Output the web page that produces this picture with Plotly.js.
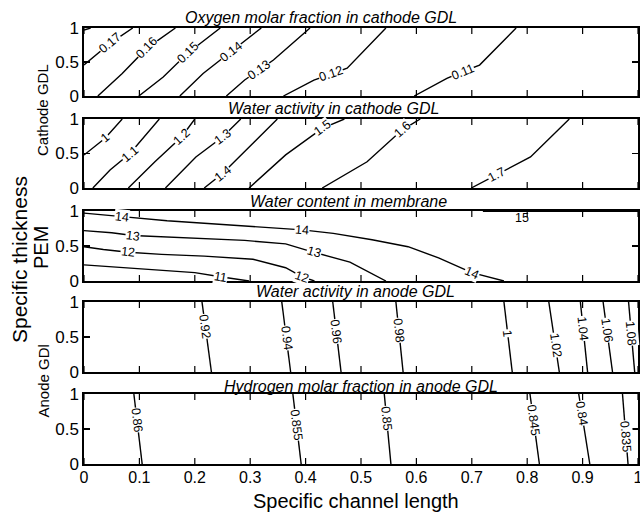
<!DOCTYPE html>
<html>
<head>
<meta charset="utf-8">
<script src="https://cdn.plot.ly/plotly-3.0.1.min.js"></script>
<style>
  html, body { margin: 0; padding: 0; background: #fff; }
  #plot { width: 640px; height: 519px; }
</style>
</head>
<body>
<div id="plot"></div>
<script>
// ---------- data ----------
// x: specific channel length, y: specific thickness of each layer (0..1)

const xTickVals = [0, 0.1, 0.2, 0.3, 0.4, 0.5, 0.6, 0.7, 0.8, 0.9, 1];
const xTickText = ['0', '0.1', '0.2', '0.3', '0.4', '0.5', '0.6', '0.7', '0.8', '0.9', '1'];
const yTickVals = [0, 0.5, 1];
const yTickText = ['0', '0.5', '1'];

// Oxygen molar fraction in cathode GDL
const o2Levels = [0.18, 0.17, 0.16, 0.15, 0.14, 0.13, 0.12, 0.11];
const o2X = [
  [0, 0.012],
  [0, 0.047, 0.088],
  [0.025, 0.069, 0.113, 0.165],
  [0.099, 0.143, 0.187, 0.246],
  [0.173, 0.215, 0.265, 0.32],
  [0.257, 0.29, 0.316, 0.342, 0.408],
  [0.36, 0.415, 0.445, 0.475, 0.545],
  [0.596, 0.655, 0.684, 0.714, 0.78]
];
const o2Y = [
  [0.97, 1],
  [0.456, 0.775, 1],
  [0, 0.33, 0.70, 1],
  [0, 0.28, 0.63, 1],
  [0, 0.33, 0.65, 1],
  [0, 0.235, 0.38, 0.53, 1],
  [0, 0.235, 0.32, 0.41, 1],
  [0, 0.26, 0.36, 0.455, 1]
];

// Water activity in cathode GDL
const cwLevels = [1, 1.1, 1.2, 1.3, 1.4, 1.5, 1.6, 1.7];
const cwX = [
  [0, 0.038, 0.069],
  [0.016, 0.047, 0.083, 0.136],
  [0.080, 0.128, 0.176, 0.2],
  [0.147, 0.202, 0.25, 0.283],
  [0.217, 0.25, 0.29, 0.349],
  [0.298, 0.364, 0.43, 0.47],
  [0.43, 0.511, 0.574, 0.607],
  [0.699, 0.744, 0.806, 0.876]
];
const cwY = [
  [0.478, 0.72, 1],
  [0, 0.26, 0.50, 1],
  [0, 0.38, 0.74, 1],
  [0, 0.45, 0.74, 1],
  [0, 0.21, 0.53, 1],
  [0, 0.48, 0.865, 1],
  [0, 0.38, 0.84, 1],
  [0, 0.19, 0.45, 1]
];

// Water content in membrane
const wcLevels = [11, 12, 13, 14, 15];
const wcX = [
  [0, 0.1, 0.2, 0.246, 0.298],
  [0, 0.035, 0.08, 0.14, 0.217, 0.305, 0.364, 0.394, 0.416],
  [0, 0.05, 0.088, 0.15, 0.217, 0.29, 0.364, 0.415, 0.48, 0.545],
  [0, 0.035, 0.069, 0.15, 0.23, 0.31, 0.394, 0.45, 0.52, 0.585, 0.64, 0.70, 0.758],
  [0.72, 1]
];
const wcY = [
  [0.23, 0.18, 0.12, 0.06, 0],
  [0.49, 0.45, 0.41, 0.38, 0.355, 0.31, 0.19, 0.06, 0],
  [0.72, 0.69, 0.65, 0.63, 0.61, 0.58, 0.53, 0.41, 0.27, 0],
  [0.97, 0.95, 0.92, 0.86, 0.82, 0.78, 0.73, 0.68, 0.59, 0.49, 0.33, 0.12, 0],
  [0.997, 0.997]
];

// Water activity in anode GDL (iso-lines run from top edge to bottom edge)
const awLevels = [0.92, 0.94, 0.96, 0.98, 1, 1.02, 1.04, 1.06, 1.08];
const awTopX = [0.213, 0.357, 0.449, 0.563, 0.758, 0.839, 0.896, 0.937, 0.983];
const awBotX = [0.23, 0.373, 0.464, 0.576, 0.773, 0.858, 0.909, 0.954, 0.994];

// Hydrogen molar fraction in anode GDL
const h2Levels = [0.86, 0.855, 0.85, 0.845, 0.84, 0.835];
const h2TopX = [0.09, 0.377, 0.542, 0.805, 0.893, 0.972];
const h2BotX = [0.105, 0.392, 0.554, 0.822, 0.913, 0.982];

// ---------- label placement (inline contour labels) ----------
const o2LabelAt = [[], [[0.047, 0.775]], [[0.113, 0.70]], [[0.187, 0.63]], [[0.265, 0.65]],
                   [[0.316, 0.38]], [[0.445, 0.32]], [[0.684, 0.36]]];
const cwLabelAt = [[[0.038, 0.72]], [[0.083, 0.50]], [[0.176, 0.74]], [[0.25, 0.74]],
                   [[0.25, 0.21]], [[0.43, 0.865]], [[0.574, 0.84]], [[0.744, 0.19]]];
const wcLabelAt = [[[0.246, 0.06]], [[0.08, 0.41], [0.394, 0.06]], [[0.088, 0.65], [0.415, 0.41]],
                   [[0.069, 0.92], [0.394, 0.73], [0.70, 0.12]], [[0.79, 0.90]]];
const awLabelY = [0.65, 0.48, 0.576, 0.6, 0.55, 0.38, 0.62, 0.6, 0.55];
const h2LabelY = [0.63, 0.56, 0.66, 0.63, 0.73, 0.39];

// ---------- figure geometry ----------
const FIG_W = 640, FIG_H = 519;
const M = { l: 84, r: 2, t: 28, b: 55 };
const plotW = FIG_W - M.l - M.r;
const plotH = FIG_H - M.t - M.b;
const plotBottom = FIG_H - M.b;
const panelPx = [[28, 96], [119, 188], [211, 281], [302, 372], [394, 464]];
const paperX = px => (px - M.l) / plotW;
const paperY = py => (plotBottom - py) / plotH;
const TICK_LEN = 6;

const FONT = 'Liberation Sans, Arial, Helvetica, sans-serif';

// build iso-line sets for the anode panels (two end points each)
function edgeLines(topX, botX) {
  return { xs: topX.map((t, i) => [t, botX[i]]), ys: topX.map(() => [1, 0]) };
}
function edgeLabels(topX, botX, ly) {
  return topX.map((t, i) => [[t + (botX[i] - t) * (1 - ly[i]), ly[i]]]);
}
const aw = edgeLines(awTopX, awBotX);
const h2 = edgeLines(h2TopX, h2BotX);

const panels = [
  { title: 'Oxygen molar fraction in cathode GDL', levels: o2Levels, xs: o2X, ys: o2Y, labels: o2LabelAt, tx: 321, ty: 17 },
  { title: 'Water activity in cathode GDL', levels: cwLevels, xs: cwX, ys: cwY, labels: cwLabelAt, tx: 333, ty: 108 },
  { title: 'Water content in membrane', levels: wcLevels, xs: wcX, ys: wcY, labels: wcLabelAt, tx: 348, ty: 201 },
  { title: 'Water activity in anode GDL', levels: awLevels, xs: aw.xs, ys: aw.ys,
    labels: edgeLabels(awTopX, awBotX, awLabelY), tx: 355, ty: 291.5 },
  { title: 'Hydrogen molar fraction in anode GDL', levels: h2Levels, xs: h2.xs, ys: h2.ys,
    labels: edgeLabels(h2TopX, h2BotX, h2LabelY), tx: 361, ty: 386 }
];

// direction of the nearest line segment, in screen pixels, as a plotly textangle
function labelGeometry(xs, ys, lx, ly, hPx) {
  let best = [1, 0], bd = Infinity;
  const px = lx * plotW, py = ly * hPx;
  for (let i = 0; i < xs.length - 1; i++) {
    const ax = xs[i] * plotW, ay = ys[i] * hPx;
    const dx = xs[i + 1] * plotW - ax, dy = ys[i + 1] * hPx - ay;
    const L2 = dx * dx + dy * dy;
    let t = L2 ? ((px - ax) * dx + (py - ay) * dy) / L2 : 0;
    t = Math.max(0, Math.min(1, t));
    const qx = ax + t * dx - px, qy = ay + t * dy - py;
    const d = Math.sqrt(qx * qx + qy * qy);
    if (d < bd) { bd = d; best = [dx, dy]; }
  }
  let a = Math.atan2(best[1], best[0]) * 180 / Math.PI;
  if (a > 90) a -= 180;
  if (a <= -90) a += 180;
  return { angle: -a, dist: bd };
}

const traces = [];
const annotations = [];
const shapes = [];
const layout = {
  width: FIG_W, height: FIG_H,
  margin: M,
  paper_bgcolor: '#fff', plot_bgcolor: '#fff',
  showlegend: false,
  font: { family: FONT, color: '#000' }
};

panels.forEach((p, k) => {
  const n = k + 1;
  const xa = n === 1 ? 'x' : 'x' + n;
  const ya = n === 1 ? 'y' : 'y' + n;
  const [top, bot] = panelPx[k];
  const hPx = bot - top;

  layout[n === 1 ? 'xaxis' : 'xaxis' + n] = {
    domain: [0, 1], range: [0, 1], anchor: ya,
    showline: true, linecolor: '#000', linewidth: 1.6, mirror: true,
    tickmode: 'array', tickvals: xTickVals, ticktext: xTickText,
    ticks: '', showticklabels: n === 5, ticklabelstandoff: -2,
    ticklabeloverflow: 'allow',
    tickfont: { size: 16, family: FONT, color: '#000' },
    showgrid: false, zeroline: false, fixedrange: true
  };
  layout[n === 1 ? 'yaxis' : 'yaxis' + n] = {
    domain: [paperY(bot), paperY(top)], range: [0, 1], anchor: xa,
    showline: true, linecolor: '#000', linewidth: 1.6, mirror: 'ticks',
    tickmode: 'array', tickvals: yTickVals, ticktext: yTickText,
    ticks: 'inside', ticklen: TICK_LEN, tickwidth: 1.2, tickcolor: '#000',
    tickfont: { size: 17, family: FONT, color: '#000' },
    showgrid: false, zeroline: false, fixedrange: true
  };

  // inward tick marks on the bottom and top edges of every panel
  xTickVals.forEach(v => {
    [[0, TICK_LEN], [1, -TICK_LEN]].forEach(([anchor, len]) => {
      shapes.push({
        type: 'line', xref: xa, yref: ya + ' domain',
        x0: v, x1: v, ysizemode: 'pixel', yanchor: anchor, y0: 0, y1: len,
        line: { color: '#000', width: 1.2 }
      });
    });
  });

  p.levels.forEach((lev, i) => {
    traces.push({
      type: 'scatter', mode: 'lines', xaxis: xa, yaxis: ya,
      x: p.xs[i], y: p.ys[i],
      line: { color: '#000', width: 1.4 },
      hoverinfo: 'skip', cliponaxis: true
    });
    (p.labels[i] || []).forEach(([lx, ly]) => {
      const g = labelGeometry(p.xs[i], p.ys[i], lx, ly, hPx);
      annotations.push({
        xref: xa, yref: ya, x: lx, y: ly,
        text: String(lev), showarrow: false,
        textangle: g.angle,
        font: { size: 12.5, family: FONT, color: '#000' },
        bgcolor: g.dist < 4 ? '#fff' : 'rgba(0,0,0,0)',
        borderpad: 0,
        xanchor: 'center', yanchor: 'middle'
      });
    });
  });

  // panel heading
  annotations.push({
    xref: 'paper', yref: 'paper', x: paperX(p.tx), y: paperY(p.ty),
    text: p.title, showarrow: false, xanchor: 'center', yanchor: 'middle',
    font: { size: 16, family: FONT, color: '#000', style: 'italic' }
  });
});

// axis captions
annotations.push(
  { xref: 'paper', yref: 'paper', x: paperX(356), y: paperY(501), text: 'Specific channel length',
    showarrow: false, xanchor: 'center', yanchor: 'middle', font: { size: 20, family: FONT, color: '#000' } },
  { xref: 'paper', yref: 'paper', x: paperX(19), y: paperY(260), text: 'Specific thickness',
    showarrow: false, textangle: -90, xanchor: 'center', yanchor: 'middle', font: { size: 21, family: FONT, color: '#000' } },
  { xref: 'paper', yref: 'paper', x: paperX(41), y: paperY(247), text: 'PEM',
    showarrow: false, textangle: -90, xanchor: 'center', yanchor: 'middle', font: { size: 20, family: FONT, color: '#000' } },
  { xref: 'paper', yref: 'paper', x: paperX(43), y: paperY(110), text: 'Cathode GDL',
    showarrow: false, textangle: -90, xanchor: 'center', yanchor: 'middle', font: { size: 15, family: FONT, color: '#000' } },
  { xref: 'paper', yref: 'paper', x: paperX(43), y: paperY(381.5), text: 'Anode GDl',
    showarrow: false, textangle: -90, xanchor: 'center', yanchor: 'middle', font: { size: 15, family: FONT, color: '#000' } }
);

layout.annotations = annotations;
layout.shapes = shapes;

Plotly.newPlot('plot', traces, layout, { staticPlot: true, displayModeBar: false });
</script>
</body>
</html>
